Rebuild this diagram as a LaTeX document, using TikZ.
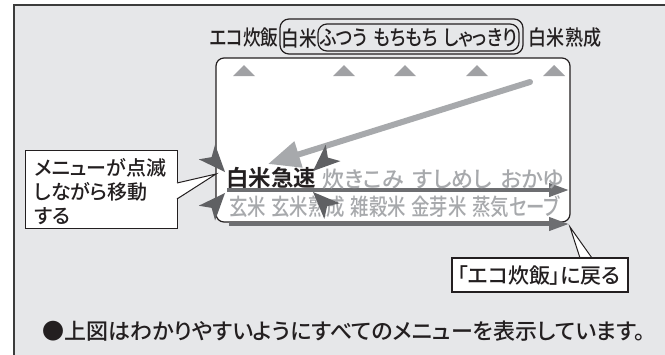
\documentclass[tikz,border=0pt]{standalone}
\usepackage{fontspec}
\setmainfont{Noto Sans CJK JP Medium}[RawFeature=+palt, BoldFont=Noto Sans CJK JP Bold]
\usetikzlibrary{arrows.meta}
\definecolor{framebg}{HTML}{E6E7E9}
\definecolor{frameln}{HTML}{3C3C3C}
\definecolor{txt}{HTML}{231F20}
\definecolor{lgray}{HTML}{A7A9AC}
\definecolor{dgray}{HTML}{6D6E71}
\definecolor{sparkc}{HTML}{5F6063}
\definecolor{tric}{HTML}{A0A1A4}
\tikzset{
  jp/.style={inner sep=0pt, text=txt, font=\fontsize{#1}{#1}\selectfont},
  lineblk/.style={draw=txt, line width=1.2pt},
  dispbox/.style={lineblk, fill=white, rounded corners=8pt, inner sep=0pt},
  pillbox/.style={lineblk, rounded corners=9pt, inner sep=0pt},
  callbox/.style={lineblk, fill=white, inner sep=0pt},
  tri/.style={fill=tric},
  bigarrow/.style={draw=lgray, line width=6pt, line cap=round, -{Triangle[length=32pt,width=26pt]}},
  darrow/.style={draw=dgray, line width=4pt, -{Triangle[length=20pt,width=13pt]}},
  spark/.style={fill=sparkc},
  sparkshape/.style={},
}
\begin{document}
\begin{tikzpicture}[x=1pt,y=-1pt]
\useasboundingbox (0,0) rectangle (665,354);
\fill[white] (0,0) rectangle (665,354);
\draw[fill=framebg, draw=frameln, line width=2.6pt] (14,5) rectangle (690,380);

% top row
\node[jp=21, xscale=0.84, transform shape] (eco) at (244,38) {エコ炊飯};
\node[pillbox, minimum width=243, minimum height=35] (grp) at (401.5,36.5) {};
\node[pillbox, minimum width=201, minimum height=27] (sub) at (418.5,37.5) {};
\node[jp=21, xscale=0.84, transform shape] (hak) at (299,38) {白米};
\node[jp=21, xscale=0.84, transform shape] (futsu) at (418.5,38) {ふつう\hspace{7pt}もちもち\hspace{7pt}しゃっきり};
\node[jp=21, xscale=0.86, transform shape] (juku) at (565,38) {白米熟成};

% display
\node[dispbox, minimum width=354, minimum height=164] (disp) at (393,140) {};
\foreach \cx in {244,344,405,477,554}
  \fill[tri] (\cx-11,76) -- (\cx,65) -- (\cx+11,76) -- cycle;

\coordinate (bigA) at (530,82);
\coordinate (bigB) at (268,164);
\draw[bigarrow] (bigA) -- (bigB);

\coordinate (r1s) at (227,190);
\coordinate (r1e) at (569,190);
\coordinate (r2s) at (229,224);
\coordinate (r2e) at (569,224);
\draw[darrow] (r1s) -- (r1e);

\node[jp=22.5, anchor=west, font=\fontsize{22.5}{22.5}\selectfont\bfseries] (kyu) at (226,178) {白米急速};
\node[jp=22, text=lgray, anchor=west] (row1) at (322,179) {炊きこみ\hspace{9pt}すしめし\hspace{9pt}おかゆ};
\node[jp=23, text=lgray, anchor=west, xscale=0.8, transform shape] (row2) at (229,207) {玄米\hspace{7pt}玄米熟成\hspace{7pt}雑穀米\hspace{7pt}金芽米\hspace{7pt}蒸気セーブ};
\draw[darrow] (r2s) -- (r2e);

% sparkles around the selected menu
\coordinate (s1) at (225,172);
\coordinate (s2) at (225,193);
\coordinate (s3) at (313,171);
\coordinate (s4) at (313,192);
\fill[spark, shift={(s1)}, rotate=-48] (0,0) -- (-27,11) -- (-20,0) -- (-27,-11) -- cycle;
\fill[spark, shift={(s2)}, rotate=48] (0,0) -- (-27,11) -- (-20,0) -- (-27,-11) -- cycle;
\fill[spark, shift={(s3)}, rotate=-138] (0,0) -- (-27,11) -- (-20,0) -- (-27,-11) -- cycle;
\fill[spark, shift={(s4)}, rotate=135] (0,0) -- (-27,11) -- (-20,0) -- (-27,-11) -- cycle;

% callout 1
\node[callbox, minimum width=152, minimum height=78, anchor=north west] (c1) at (25,150) {};
\node[jp=20, anchor=north west, align=left, font=\fontsize{20}{24}\selectfont] (c1t) at (34,158) {メニューが点滅\\しながら移動\\する};
\coordinate (c1p1) at (177,183);
\coordinate (c1p2) at (177,199);
\coordinate (c1tip) at (216,174);
\fill[white] ([xshift=-1.5pt]c1p1) -- (c1tip) -- ([xshift=-1.5pt]c1p2) -- cycle;
\draw[lineblk, line width=1pt] (c1p1) -- (c1tip) -- (c1p2);

% callout 2
\node[callbox, minimum width=176, minimum height=34] (c2) at (540,275) {};
\node[jp=21] (c2t) at (539,275.5) {「エコ炊飯」に戻る};
\coordinate (c2p1) at (580,258);
\coordinate (c2p2) at (592,258);
\coordinate (c2tip) at (570,227);
\fill[white] ([yshift=1.5pt]c2p1) -- (c2tip) -- ([yshift=1.5pt]c2p2) -- cycle;
\draw[lineblk, line width=1pt] (c2p1) -- (c2tip) -- (c2p2);

% note
\node[jp=22, anchor=west] (note) at (42,331) {●上図はわかりやすいようにすべてのメニューを表示しています。};
\end{tikzpicture}
\end{document}
